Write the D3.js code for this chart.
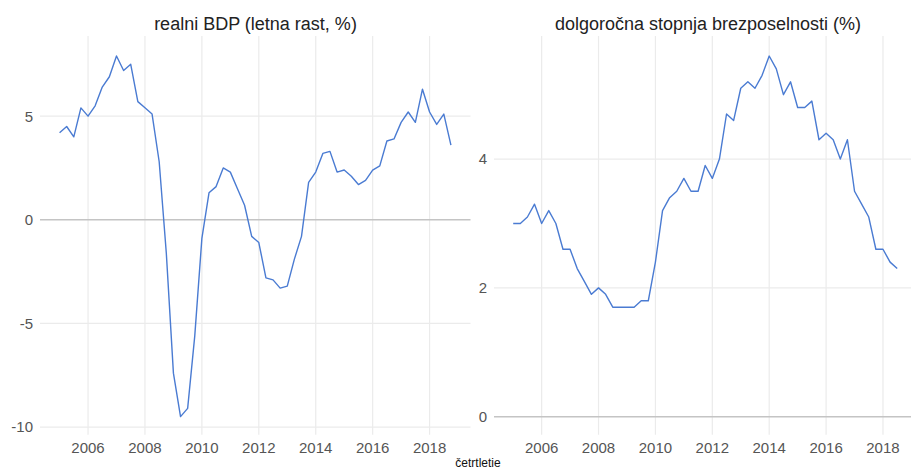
<!DOCTYPE html>
<html>
<head>
<meta charset="utf-8">
<script src="https://cdn.jsdelivr.net/npm/d3@7"></script>
<style>
  body { margin: 0; background: #fff; }
  svg { display: block; font-family: "Liberation Sans", Arial, sans-serif; }
</style>
</head>
<body>
<svg id="chart"></svg>
<script>
// quarters for both series
const quarters = [
  "2005Q1","2005Q2","2005Q3","2005Q4","2006Q1","2006Q2","2006Q3","2006Q4",
  "2007Q1","2007Q2","2007Q3","2007Q4","2008Q1","2008Q2","2008Q3","2008Q4",
  "2009Q1","2009Q2","2009Q3","2009Q4","2010Q1","2010Q2","2010Q3","2010Q4",
  "2011Q1","2011Q2","2011Q3","2011Q4","2012Q1","2012Q2","2012Q3","2012Q4",
  "2013Q1","2013Q2","2013Q3","2013Q4","2014Q1","2014Q2","2014Q3","2014Q4",
  "2015Q1","2015Q2","2015Q3","2015Q4","2016Q1","2016Q2","2016Q3","2016Q4",
  "2017Q1","2017Q2","2017Q3","2017Q4","2018Q1","2018Q2","2018Q3","2018Q4"
];

// realni BDP, letna rast (%)
const gdpGrowth = [
  4.2, 4.5, 4.0, 5.4,   5.0, 5.5, 6.4, 6.9,
  7.9, 7.2, 7.5, 5.7,   5.4, 5.1, 2.8, -1.6,
  -7.4, -9.5, -9.1, -5.6,  -0.9, 1.3, 1.6, 2.5,
  2.3, 1.5, 0.7, -0.8,  -1.1, -2.8, -2.9, -3.3,
  -3.2, -1.9, -0.8, 1.8,  2.3, 3.2, 3.3, 2.3,
  2.4, 2.1, 1.7, 1.9,   2.4, 2.6, 3.8, 3.9,
  4.7, 5.2, 4.7, 6.3,   5.2, 4.6, 5.1, 3.6
];

// dolgoročna stopnja brezposelnosti (%), do 2018Q3
const longUnemp = [
  3.0, 3.0, 3.1, 3.3,   3.0, 3.2, 3.0, 2.6,
  2.6, 2.3, 2.1, 1.9,   2.0, 1.9, 1.7, 1.7,
  1.7, 1.7, 1.8, 1.8,   2.4, 3.2, 3.4, 3.5,
  3.7, 3.5, 3.5, 3.9,   3.7, 4.0, 4.7, 4.6,
  5.1, 5.2, 5.1, 5.3,   5.6, 5.4, 5.0, 5.2,
  4.8, 4.8, 4.9, 4.3,   4.4, 4.3, 4.0, 4.3,
  3.5, 3.3, 3.1, 2.6,   2.6, 2.4, 2.3
];

const xTicks = [2006, 2008, 2010, 2012, 2014, 2016, 2018];
const gdpTicks = [-10, -5, 0, 5];
const unempTicks = [0, 2, 4];

const width = 911, height = 470;
const lineColor = "#4a7bd2";
const gridColor = "#ebebeb";
const zeroColor = "#c4c4c4";

const svg = d3.select("#chart").attr("width", width).attr("height", height);

function toYear(q) {
  return +q.slice(0, 4) + (+q.slice(5) - 1) / 4;
}

// ggplot-like 5% padding
function padded(ext) {
  const d = (ext[1] - ext[0]) * 0.05;
  return [ext[0] - d, ext[1] + d];
}

function panel(values, yTicks, title, xRange, titleX, includeZero) {
  const data = values.map((v, i) => ({ t: toYear(quarters[i]), v: v }));
  const top = 36, bottom = 434.7;

  const x = d3.scaleLinear()
    .domain(padded(d3.extent(data, d => d.t)))
    .range(xRange);

  let yExt = d3.extent(data, d => d.v);
  if (includeZero) yExt = [Math.min(0, yExt[0]), Math.max(0, yExt[1])];
  const y = d3.scaleLinear()
    .domain(padded(yExt))
    .range([bottom, top + 2]);

  const g = svg.append("g");

  // grid
  g.selectAll(".vgrid")
    .data(xTicks)
    .enter().append("line")
    .attr("x1", d => x(d)).attr("x2", d => x(d))
    .attr("y1", top).attr("y2", bottom)
    .attr("stroke", gridColor).attr("stroke-width", 1.2);

  g.selectAll(".hgrid")
    .data(yTicks)
    .enter().append("line")
    .attr("x1", xRange[0]).attr("x2", xRange[1])
    .attr("y1", d => y(d)).attr("y2", d => y(d))
    .attr("stroke", d => d === 0 ? zeroColor : gridColor)
    .attr("stroke-width", d => d === 0 ? 1.5 : 1.2);

  // tick labels
  g.selectAll(".xlab")
    .data(xTicks)
    .enter().append("text")
    .attr("x", d => x(d)).attr("y", 452.5)
    .attr("text-anchor", "middle")
    .attr("fill", "#555")
    .style("font-size", "15px")
    .text(d => d);

  g.selectAll(".ylab")
    .data(yTicks)
    .enter().append("text")
    .attr("x", xRange[0] - 7).attr("y", d => y(d))
    .attr("dy", "0.36em")
    .attr("text-anchor", "end")
    .attr("fill", "#555")
    .style("font-size", "15px")
    .text(d => d);

  // series
  g.append("path")
    .datum(data)
    .attr("fill", "none")
    .attr("stroke", lineColor)
    .attr("stroke-width", 1.4)
    .attr("stroke-linejoin", "round")
    .attr("d", d3.line().x(d => x(d.t)).y(d => y(d.v)));

  g.append("text")
    .attr("x", titleX).attr("y", 30)
    .attr("text-anchor", "middle")
    .attr("fill", "#222")
    .style("font-size", "18px")
    .text(title);
}

panel(gdpGrowth, gdpTicks, "realni BDP (letna rast, %)", [40, 470.5], 255.5, false);
panel(longUnemp, unempTicks, "dolgoročna stopnja brezposelnosti (%)", [494, 916.4], 708, true);

svg.append("text")
  .attr("x", 478).attr("y", 467)
  .attr("text-anchor", "middle")
  .attr("fill", "#111")
  .style("font-size", "12px")
  .text("četrtletie");
</script>
</body>
</html>
